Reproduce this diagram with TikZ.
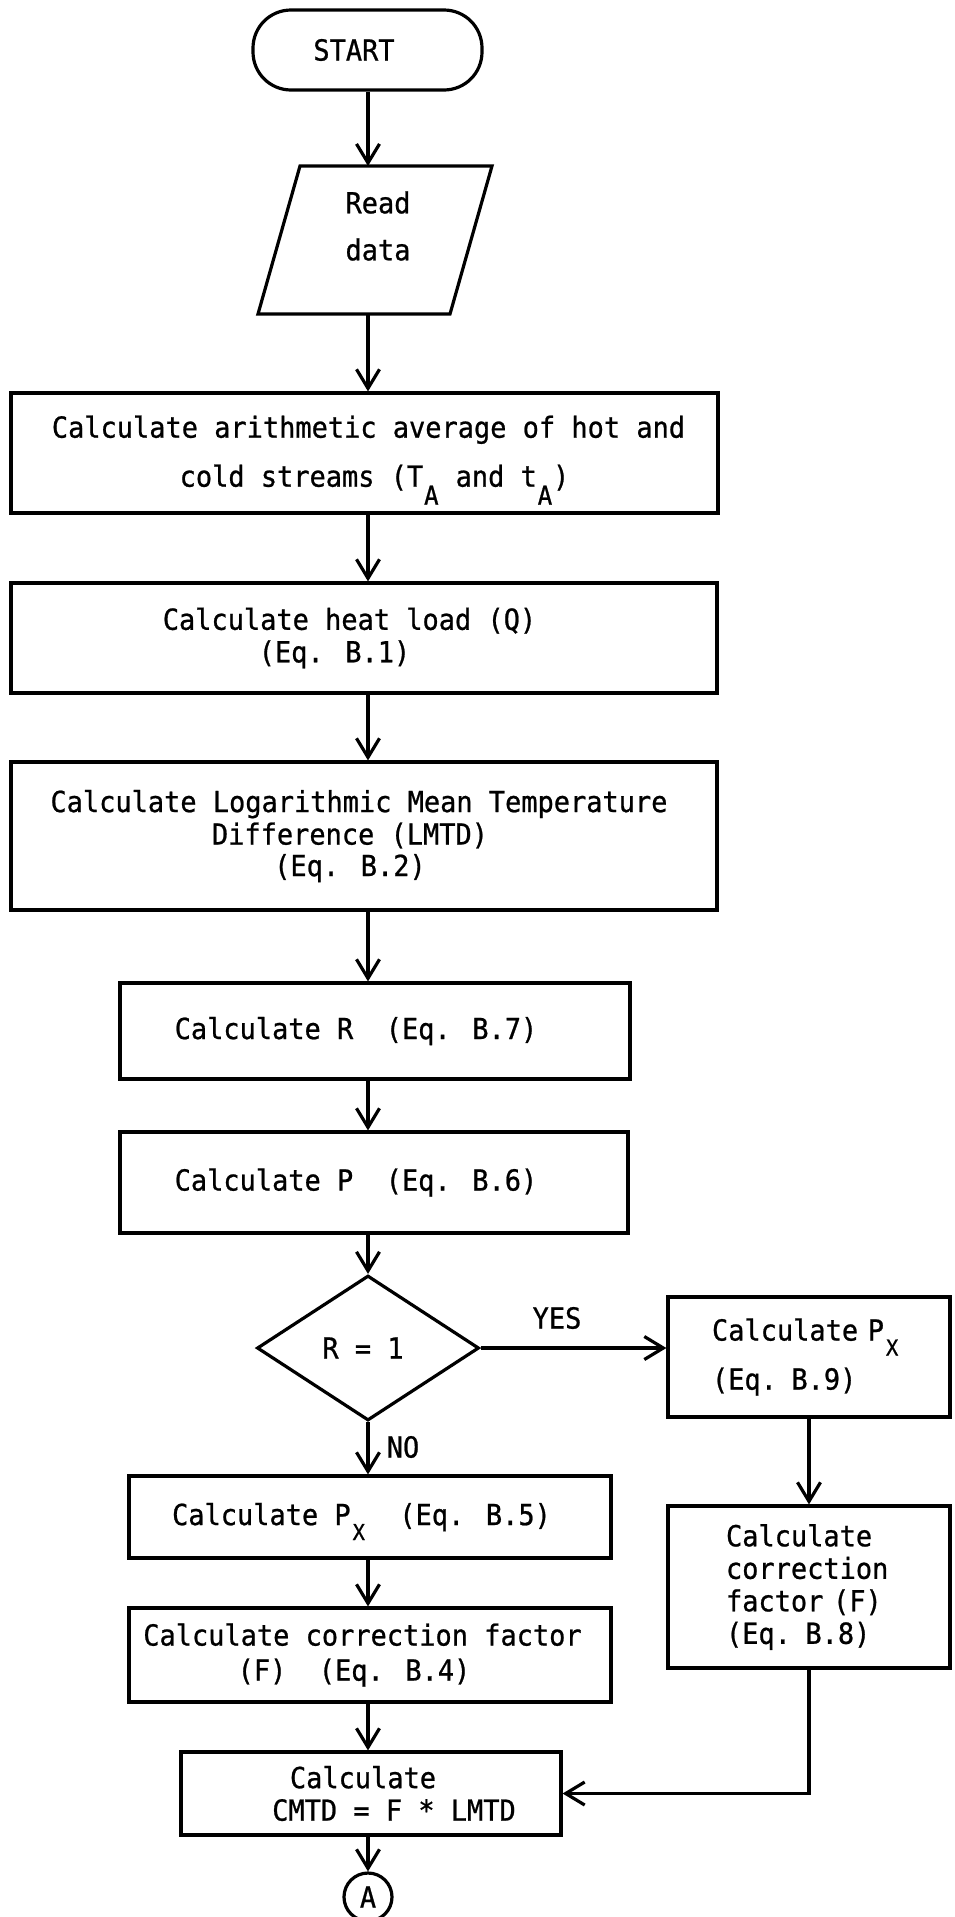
\documentclass[tikz,border=0pt]{standalone}
\usepackage{fontspec}
\setmainfont[FakeStretch=0.93,FakeBold=0.8]{DejaVu Sans Mono}
\usetikzlibrary{arrows.meta,shapes.geometric,calc}
% lowered index set one typewriter column wide
\newcommand\lowsub[3]{\makebox[16.2pt][c]{\raisebox{-#2}[0pt][0pt]{\fontsize{#3}{#3}\selectfont #1}}}
\newcommand\SA{\lowsub{A}{18pt}{26}}
\newcommand\SX{\lowsub{X}{15pt}{22}}
\newcommand\nudge[1]{\hspace*{#1}}
\begin{document}
\begin{tikzpicture}[x=1pt,y=-1pt,
  every node/.style={font=\fontsize{29}{32.5}\selectfont, inner sep=0pt},
  line/.style={line width=3.2pt},
  flow/.style={line width=3.2pt, -{Straight Barb[length=19pt,width=23pt]}},
  box/.style={draw, line width=3.2pt, rectangle, align=center},
  leftbox/.style={draw, line width=3.2pt, rectangle, align=left},
  lbl/.style={anchor=center}]
\useasboundingbox (0,0) rectangle (954,1917);
\fill[white] (0,0) rectangle (954,1917);
\coordinate (axis) at (368,0);

% terminal
\node[box, rounded corners=38pt, minimum width=229pt, minimum height=80pt]
  (start) at (367.5,50) {\nudge{-27pt}START};

% input parallelogram
\draw[line] (300,166) -- (492,166) -- (450,314) -- (258,314) -- cycle;
\node[align=center] (read) at (378,226) {Read\\[14.5pt]data};
\coordinate (readin) at (368,166);
\coordinate (readout) at (368,314);

% main column
\node[box, minimum width=707pt, minimum height=120pt] (avg) at (364.5,453)
  {\nudge{8pt}Calculate arithmetic average of hot and\\[16.5pt]
   \nudge{20pt}cold streams (T\SA{} and t\SA)};
\node[box, minimum width=706pt, minimum height=110pt] (heat) at (364,638)
  {\nudge{-29pt}Calculate heat load (Q)\\ \nudge{-59pt}(Eq. B.1)};
\node[box, minimum width=706pt, minimum height=148pt] (lmtd) at (364,836)
  {\nudge{-10pt}Calculate Logarithmic Mean Temperature\\
   \nudge{-28pt}Difference (LMTD)\\[-1pt] \nudge{-28pt}(Eq. B.2)};
\node[box, minimum width=510pt, minimum height=96pt] (calcR) at (375,1031)
  {\nudge{-38pt}Calculate R\ \ (Eq. B.7)};
\node[box, minimum width=508pt, minimum height=101pt] (calcP) at (374,1182.5)
  {\nudge{-36pt}Calculate P\ \ (Eq. B.6)};

% decision
\node[diamond, draw, line width=3.2pt, minimum width=222pt, minimum height=145pt]
  (dec) at (368,1348) {\nudge{-10pt}R = 1};

% NO branch
\node[box, minimum width=482pt, minimum height=82pt] (pxno) at (370,1517)
  {\nudge{-17pt}Calculate P\SX\ \ (Eq. B.5)};
\node[box, minimum width=482pt, minimum height=94pt] (fno) at (370,1655)
  {\nudge{-15pt}Calculate correction factor\\[2.5pt] \nudge{-32pt}(F)\ \ (Eq. B.4)};
\node[box, minimum width=380pt, minimum height=83pt] (cmtd) at (371,1793.5)
  {\nudge{-16pt}Calculate\\ \nudge{46pt}CMTD = F * LMTD};
\node[draw, circle, line width=3.2pt, minimum size=48pt] (conA) at (368,1897) {A};

% YES branch
\node[leftbox, text width=194pt, minimum width=282pt, minimum height=120pt]
  (pxyes) at (809,1357) {Calculate P\SX\\[16.5pt](Eq. B.9)};
\node[leftbox, text width=166pt, minimum width=282pt, minimum height=162pt]
  (fyes) at (809,1587) {Calculate\\correction\\factor (F)\\(Eq. B.8)};

% branch labels
\node[lbl] (yes) at (557,1318) {YES};
\node[lbl] (no) at (403,1447) {NO};

% connectors
\draw[flow] (start.south -| axis) -- (readin);
\draw[flow] (readout) -- (avg.north -| axis);
\draw[flow] (avg.south -| axis) -- (heat.north -| axis);
\draw[flow] (heat.south -| axis) -- (lmtd.north -| axis);
\draw[flow] (lmtd.south -| axis) -- (calcR.north -| axis);
\draw[flow] (calcR.south -| axis) -- (calcP.north -| axis);
\draw[flow] (calcP.south -| axis) -- (dec.north);
\draw[flow] (dec.east) -- (dec.east -| pxyes.west);
\draw[flow] (dec.south) -- (pxno.north -| dec.south);
\draw[flow] (pxno.south -| axis) -- (fno.north -| axis);
\draw[flow] (fno.south -| axis) -- (cmtd.north -| axis);
\draw[flow] (cmtd.south -| axis) -- (conA.north);
\draw[flow] (pxyes.south) -- (fyes.north);
\draw[flow] (fyes.south) |- (cmtd.east);
\end{tikzpicture}
\end{document}
